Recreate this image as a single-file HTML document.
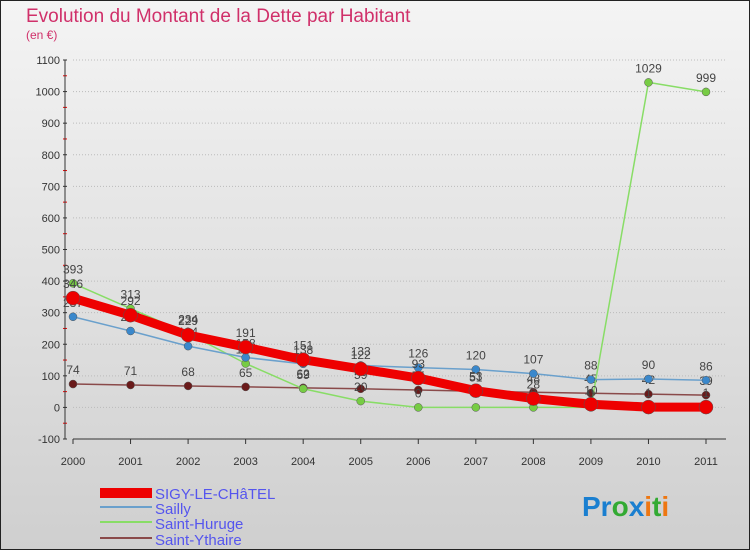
<!DOCTYPE html>
<html><head><meta charset="utf-8">
<style>
body{margin:0;background:#fff}
svg{display:block;font-family:"Liberation Sans",sans-serif}
</style></head><body>
<svg id="chart" width="750" height="550" viewBox="0 0 750 550">
<defs><linearGradient id="bg" x1="0" y1="0" x2="0" y2="1"><stop offset="0" stop-color="#f4f4f4"/><stop offset="1" stop-color="#cfcfcf"/></linearGradient></defs>
<rect x="0.5" y="0.5" width="749" height="549" fill="url(#bg)" stroke="#222"/>
<text x="26" y="22" font-size="19" fill="#d0306a">Evolution du Montant de la Dette par Habitant</text>
<text x="26" y="39" font-size="12" fill="#d0306a">(en €)</text>
<g id="axes"></g>
<g id="series"></g>
<g id="legend">
<rect x="100" y="488" width="52" height="10" fill="#ee0000"/>
<text x="155" y="499" font-size="15" fill="#5555ee">SIGY-LE-CHâTEL</text>
<rect x="100" y="506" width="52" height="2" fill="#6aa0cc"/>
<text x="155" y="514" font-size="15" fill="#5555ee">Sailly</text>
<rect x="100" y="521" width="52" height="2" fill="#88dd66"/>
<text x="155" y="529" font-size="15" fill="#5555ee">Saint-Huruge</text>
<rect x="100" y="537" width="52" height="2" fill="#8a4a4a"/>
<text x="155" y="545" font-size="15" fill="#5555ee">Saint-Ythaire</text>
</g>
<text x="582" y="516" font-size="28" font-weight="bold"><tspan fill="#1a7fd0">Pr</tspan><tspan fill="#33aa33">o</tspan><tspan fill="#1a7fd0">x</tspan><tspan fill="#ee7711">i</tspan><tspan fill="#33aa33">t</tspan><tspan fill="#ee7711">i</tspan></text>
</svg>
<script>
const years=[2000,2001,2002,2003,2004,2005,2006,2007,2008,2009,2010,2011];
const sigy=[346,292,229,191,151,122,93,53,28,10,1,1];
const sailly=[287,242,194,158,138,133,126,120,107,88,90,86];
const huruge=[393,313,234,139,59,20,0,0,0,0,1029,999];
const ythaire=[74,71,68,65,62,59,55,51,48,45,42,39];
const yTicks=[-100,0,100,200,300,400,500,600,700,800,900,1000,1100];
const NS="http://www.w3.org/2000/svg";
const x0=73,x1=706,yTop=60,yBot=439,vMin=-100,vMax=1100;
function xs(i){return x0+(x1-x0)*i/(years.length-1);}
function ys(v){return yBot-(v-vMin)/(vMax-vMin)*(yBot-yTop);}
function mk(tag,attrs,parent){const e=document.createElementNS(NS,tag);for(const k in attrs)e.setAttribute(k,attrs[k]);parent.appendChild(e);return e;}
const ax=document.getElementById('axes');
yTicks.forEach(v=>{
  const g=mk('line',{x1:x0,x2:x1+20,y1:ys(v),y2:ys(v),stroke:'#bbb','stroke-dasharray':'1,2'},ax);
  
  
  const t=mk('text',{x:x0-13,y:ys(v)+4,'font-size':11,'text-anchor':'end',fill:'#333'},ax);
  t.textContent=v;
  
  
  const tk=mk('line',{x1:x0-10,x2:x0-6,y1:ys(v),y2:ys(v),stroke:'#333'},ax);
  
  
});
for(let k=0;k<yTicks.length-1;k++){
  const v=(yTicks[k]+yTicks[k+1])/2;
  const m=mk('line',{x1:x0-10,x2:x0-6,y1:ys(v),y2:ys(v),stroke:'#e00'},ax);
  
  
}
const yl=mk('line',{x1:x0-8,x2:x0-8,y1:yTop,y2:yBot,stroke:'#333'},ax);


const xl=mk('line',{x1:x0,x2:x1+20,y1:yBot,y2:yBot,stroke:'#333'},ax);


years.forEach((y,i)=>{
  const t=mk('text',{x:xs(i),y:yBot+26,'font-size':11,'text-anchor':'middle',fill:'#333'},ax);
  t.textContent=y;
  
  
  const tk=mk('line',{x1:xs(i),x2:xs(i),y1:yBot,y2:yBot+5,stroke:'#333'},ax);
  
  
});
const sg=document.getElementById('series');
function drawSeries(vals,name,color,w,r,dotColor){
  const g=mk('g',{},sg);
  
  
  const p=mk('polyline',{points:vals.map((v,i)=>xs(i)+','+ys(v)).join(' '),fill:'none',stroke:color,'stroke-width':w,'stroke-linejoin':'round'},g);
  
  
  vals.forEach((v,i)=>{
    const c=mk('circle',{cx:xs(i),cy:ys(v),r:r,fill:dotColor,stroke:'#555','stroke-width':0.5},g);
    
    
    const t=mk('text',{x:xs(i),y:ys(v)-10,'font-size':12,'text-anchor':'middle',fill:'#444'},g);
    t.textContent=v;
    
    
  });
}
drawSeries(ythaire,'saint-ythaire','#8a4a4a',1.5,4,'#6a1a1a');
drawSeries(huruge,'saint-huruge','#88dd66',1.5,4,'#77cc44');
drawSeries(sailly,'sailly','#6aa0cc',1.5,4,'#3a88cc');
drawSeries(sigy,'sigy-le-chatel','#ee0000',9,7,'#ee0000');
</script>
</body></html>
